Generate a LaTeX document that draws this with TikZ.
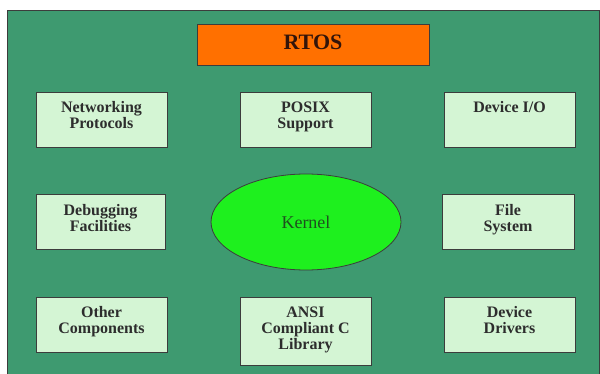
\documentclass[tikz,border=0pt]{standalone}
\usepackage{fontspec}
\setmainfont{Liberation Serif}
\usetikzlibrary{shapes.geometric}
\definecolor{bggreen}{RGB}{62,154,112}
\definecolor{boxfill}{RGB}{212,245,212}
\definecolor{rtosorange}{RGB}{255,112,0}
\definecolor{kernelgreen}{RGB}{30,240,30}
\definecolor{edgegray}{RGB}{60,60,60}
\definecolor{txtgray}{RGB}{45,45,45}
\definecolor{kerneltxt}{RGB}{30,80,30}
\definecolor{rtostxt}{RGB}{50,20,10}
\begin{document}
\begin{tikzpicture}[x=1pt,y=-1pt,
  compbox/.style={draw=edgegray,line width=1pt,fill=boxfill},
  comptext/.style={anchor=north,inner sep=0pt,align=center,text=txtgray,
    font=\fontsize{16}{16}\selectfont\bfseries}]
\useasboundingbox (0,0) rectangle (600,374);
\fill[white] (0,0) rectangle (600,374);
\path[draw=edgegray,line width=1pt,fill=bggreen] (7,11) rectangle (599,380);
% RTOS
\path[draw=edgegray,line width=1pt,fill=rtosorange] (197,25) rectangle (429,66);
\node[anchor=base,inner sep=0pt,text=rtostxt,font=\fontsize{22}{24}\selectfont\bfseries] (rtos) at (313,49.3) {RTOS};
% row 1
\path[compbox] (36,93) rectangle (167,148);
\node[comptext] (net) at (101.5,101.5) {Networking\\Protocols};
\path[compbox] (240,93) rectangle (371,148);
\node[comptext] (posix) at (305.5,101.5) {POSIX\\Support};
\path[compbox] (444,93) rectangle (575,148);
\node[comptext] (devio) at (509.5,101.5) {Device I/O};
% row 2
\path[compbox] (36,195) rectangle (165,250);
\node[comptext] (dbg) at (100.5,204.5) {Debugging\\Facilities};
\node[ellipse,draw=edgegray,line width=0.8pt,fill=kernelgreen,minimum width=190pt,minimum height=96pt,inner sep=0pt] (kern) at (306,222) {};
\node[anchor=base,text=kerneltxt,font=\fontsize{18}{20}\selectfont,inner sep=0pt] (ktext) at (306,229) {Kernel};
\path[compbox] (442,195) rectangle (574,250);
\node[comptext] (fs) at (508,204.5) {File\\System};
% row 3
\path[compbox] (36,297) rectangle (167,352);
\node[comptext] (other) at (101.5,306.5) {Other\\Components};
\path[compbox] (240,297) rectangle (371,365);
\node[comptext] (ansi) at (305.5,306.5) {ANSI\\Compliant C\\Library};
\path[compbox] (444,297) rectangle (575,352);
\node[comptext] (drv) at (509.5,306.5) {Device\\Drivers};
\end{tikzpicture}
\end{document}
